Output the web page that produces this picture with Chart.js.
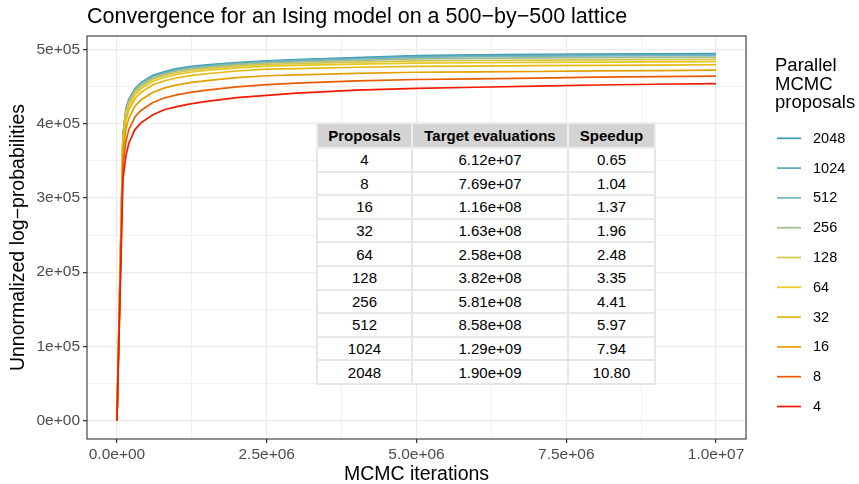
<!DOCTYPE html>
<html>
<head>
<meta charset="utf-8">
<script src="https://cdn.jsdelivr.net/npm/chart.js@4.4.1/dist/chart.umd.min.js"></script>
<style>
  html, body { margin: 0; padding: 0; background: #ffffff; }
  #wrap { position: relative; width: 859px; height: 484px; }
  #plot { position: absolute; left: 0; top: 0; }
  #summary {
    position: absolute; left: 316px; top: 122px;
    border-collapse: collapse; table-layout: fixed;
    font-family: "Liberation Sans", Arial, sans-serif; font-size: 15px; color: #000;
    background: #ffffff;
  }
  #summary th, #summary td { border: 2px solid #E6E6E6; text-align: center; padding: 0; white-space: nowrap; }
  #summary th { background: #D4D4D4; font-weight: bold; border-color: #EEEEEE; }
  #summary thead tr { height: 25px; }
  #summary tbody tr { height: 23.6px; }
</style>
</head>
<body>
<div id="wrap">
  <canvas id="plot" width="859" height="484"></canvas>
  <table id="summary">
    <colgroup><col style="width:95px"><col style="width:156px"><col style="width:87px"></colgroup>
    <thead><tr id="summaryHead"></tr></thead>
    <tbody id="summaryBody"></tbody>
  </table>
</div>
<script>
// MCMC iteration at which each trace value was recorded
const iterations = [0, 100000, 150000, 200000, 300000, 400000, 600000, 800000, 1000000, 1250000,
  1500000, 2000000, 2500000, 3000000, 4000000, 5000000, 6000000, 7000000, 8000000, 9000000, 10000000];

// Unnormalized log-probability traces, one per number of parallel proposals
const trace4    = [0, 325000, 357000, 374000, 392000, 401000, 412000, 419000, 423000, 427000, 430000, 435000, 438000, 441000, 445000, 447500, 449000, 450500, 452000, 453000, 454000];
const trace8    = [0, 343600, 376500, 392300, 409100, 417700, 428400, 434800, 438800, 442500, 445200, 449600, 452400, 454500, 457500, 459400, 460400, 461400, 462500, 463200, 464100];
const trace16   = [0, 359200, 392900, 407600, 423400, 431800, 442200, 448100, 452100, 455500, 457900, 461900, 464500, 465700, 467700, 469200, 469600, 470200, 471000, 471400, 472100];
const trace32   = [0, 370600, 404900, 418800, 433800, 442000, 452300, 457800, 461800, 465000, 467200, 470900, 473300, 474200, 475900, 477200, 477500, 478000, 478500, 478800, 479300];
const trace64   = [0, 376000, 410600, 424200, 438800, 446900, 457100, 462400, 466400, 469500, 471700, 475100, 477500, 478400, 480100, 481600, 482000, 482400, 482800, 483100, 483600];
const trace128  = [0, 379000, 413700, 427100, 441500, 449600, 459700, 464900, 468900, 472000, 474100, 477500, 479900, 480900, 482800, 484500, 485000, 485500, 485900, 486100, 486600];
const trace256  = [0, 381400, 416200, 429500, 443700, 451800, 461800, 466900, 470900, 474000, 476100, 479400, 481700, 483000, 485300, 487300, 488000, 488500, 488900, 489200, 489600];
const trace512  = [0, 382900, 417800, 430900, 445100, 453100, 463100, 468200, 472200, 475300, 477300, 480500, 482900, 484400, 487000, 489300, 490100, 490700, 491100, 491400, 491800];
const trace1024 = [0, 384100, 419100, 432100, 446200, 454200, 464200, 469200, 473200, 476300, 478300, 481500, 483800, 485400, 488100, 490500, 491500, 492200, 492600, 492900, 493200];
const trace2048 = [0, 385000, 420000, 433000, 447000, 455000, 465000, 470000, 474000, 477000, 479000, 482200, 484500, 486200, 489000, 491500, 492500, 493200, 493600, 493900, 494200];

const proposals = [4, 8, 16, 32, 64, 128, 256, 512, 1024, 2048];
const traces = [trace4, trace8, trace16, trace32, trace64, trace128, trace256, trace512, trace1024, trace2048];

// Summary table
const tableHeader = ['Proposals', 'Target evaluations', 'Speedup'];
const targetEvaluations = [6.12e7, 7.69e7, 1.16e8, 1.63e8, 2.58e8, 3.82e8, 5.81e8, 8.58e8, 1.29e9, 1.90e9];
const speedup = [0.65, 1.04, 1.37, 1.96, 2.48, 3.35, 4.41, 5.97, 7.94, 10.80];

// Axis ticks
const xMajorTicks = [0, 2500000, 5000000, 7500000, 10000000];
const xMinorTicks = [1250000, 3750000, 6250000, 8750000];
const yMajorTicks = [0, 100000, 200000, 300000, 400000, 500000];
const yMinorTicks = [50000, 150000, 250000, 350000, 450000];

const titleText = 'Convergence for an Ising model on a 500\u2212by\u2212500 lattice';
const xTitle = 'MCMC iterations';
const yTitle = 'Unnormalized log\u2212probabilities';
const legendTitle = ['Parallel', 'MCMC', 'proposals'];

// Zissou-style palette, red for few proposals through blue for many
const colors = ['#F21A00', '#EA5C00', '#E39E00', '#E4B90E', '#E9C621', '#D1C74C', '#9EBE91', '#71B4C3', '#56A7BA', '#3B9AB2'];

const FONT = '"Liberation Sans", Arial, Helvetica, sans-serif';

function sci(v, digits) {
  return v.toExponential(digits).replace(/e([+-])(\d)$/, 'e$10$2');
}

// build the table
const headRow = document.getElementById('summaryHead');
tableHeader.forEach(h => { const th = document.createElement('th'); th.textContent = h; headRow.appendChild(th); });
const body = document.getElementById('summaryBody');
proposals.forEach((p, i) => {
  const tr = document.createElement('tr');
  [String(p), sci(targetEvaluations[i], 2), speedup[i].toFixed(2)].forEach(t => {
    const td = document.createElement('td'); td.textContent = t; tr.appendChild(td);
  });
  body.appendChild(tr);
});

const datasets = proposals.map((p, k) => ({
  label: String(p),
  data: iterations.map((x, i) => ({ x: x, y: traces[k][i] })),
  borderColor: colors[k],
  backgroundColor: colors[k],
  borderWidth: 1.7,
  pointRadius: 0,
  tension: 0,
  fill: false
}));

function tickSet(major, minor) {
  return major.map(v => ({ value: v })).concat(minor.map(v => ({ value: v, minor: true })))
    .sort((a, b) => a.value - b.value);
}

const gridStyle = {
  color: '#EBEBEB',
  lineWidth: ctx => (ctx.tick && ctx.tick.minor) ? 0.7 : 1.2,
  tickColor: ctx => (ctx.tick && ctx.tick.minor) ? 'rgba(0,0,0,0)' : '#333333',
  tickLength: 4,
  drawTicks: true
};

const decor = {
  id: 'decor',
  afterDraw(chart) {
    const ctx = chart.ctx, a = chart.chartArea;
    ctx.save();
    ctx.strokeStyle = '#333333';
    ctx.lineWidth = 1.1;
    ctx.strokeRect(a.left, a.top, a.right - a.left, a.bottom - a.top);

    ctx.fillStyle = '#000000';
    ctx.textAlign = 'left';
    ctx.textBaseline = 'alphabetic';
    ctx.font = '21.5px ' + FONT;
    ctx.fillText(titleText, a.left, 22.5);

    ctx.font = '19.5px ' + FONT;
    ctx.textAlign = 'center';
    ctx.fillText(xTitle, (a.left + a.right) / 2, 479.5);
    ctx.save();
    ctx.translate(24, (a.top + a.bottom) / 2);
    ctx.rotate(-Math.PI / 2);
    ctx.fillText(yTitle, 0, 0);
    ctx.restore();

    // legend
    ctx.textAlign = 'left';
    ctx.font = '18.5px ' + FONT;
    legendTitle.forEach((t, i) => ctx.fillText(t, 775, 71 + i * 18.5));
    ctx.font = '14.5px ' + FONT;
    ctx.textBaseline = 'middle';
    const n = proposals.length;
    for (let j = 0; j < n; j++) {
      const k = n - 1 - j;
      const y = 138.3 + j * 29.8;
      ctx.strokeStyle = colors[k];
      ctx.lineWidth = 1.7;
      ctx.beginPath();
      ctx.moveTo(777, y);
      ctx.lineTo(801, y);
      ctx.stroke();
      ctx.fillStyle = '#000000';
      ctx.fillText(String(proposals[k]), 813, y + 0.5);
    }
    ctx.restore();
  }
};

new Chart(document.getElementById('plot'), {
  type: 'line',
  data: { datasets: datasets },
  plugins: [decor],
  options: {
    responsive: false,
    animation: false,
    devicePixelRatio: 1,
    layout: { padding: { top: 36, right: 113, bottom: 0, left: 0 } },
    plugins: { legend: { display: false }, tooltip: { enabled: false }, title: { display: false } },
    scales: {
      x: {
        type: 'linear',
        min: -500000,
        max: 10500000,
        afterBuildTicks: s => { s.ticks = tickSet(xMajorTicks, xMinorTicks); },
        afterFit: s => { s.height = 45; },
        grid: gridStyle,
        border: { display: false },
        ticks: {
          autoSkip: false,
          maxRotation: 0,
          padding: 2,
          color: '#4D4D4D',
          font: { family: FONT, size: 15.5 },
          callback: (v, i, ticks) => ticks[i].minor ? '' : sci(v, 1)
        }
      },
      y: {
        type: 'linear',
        min: -24650,
        max: 518000,
        afterBuildTicks: s => { s.ticks = tickSet(yMajorTicks, yMinorTicks); },
        afterFit: s => { s.width = 87; },
        grid: gridStyle,
        border: { display: false },
        ticks: {
          autoSkip: false,
          padding: 3,
          color: '#4D4D4D',
          font: { family: FONT, size: 15.5 },
          callback: (v, i, ticks) => ticks[i].minor ? '' : sci(v, 0)
        }
      }
    }
  }
});
</script>
</body>
</html>
